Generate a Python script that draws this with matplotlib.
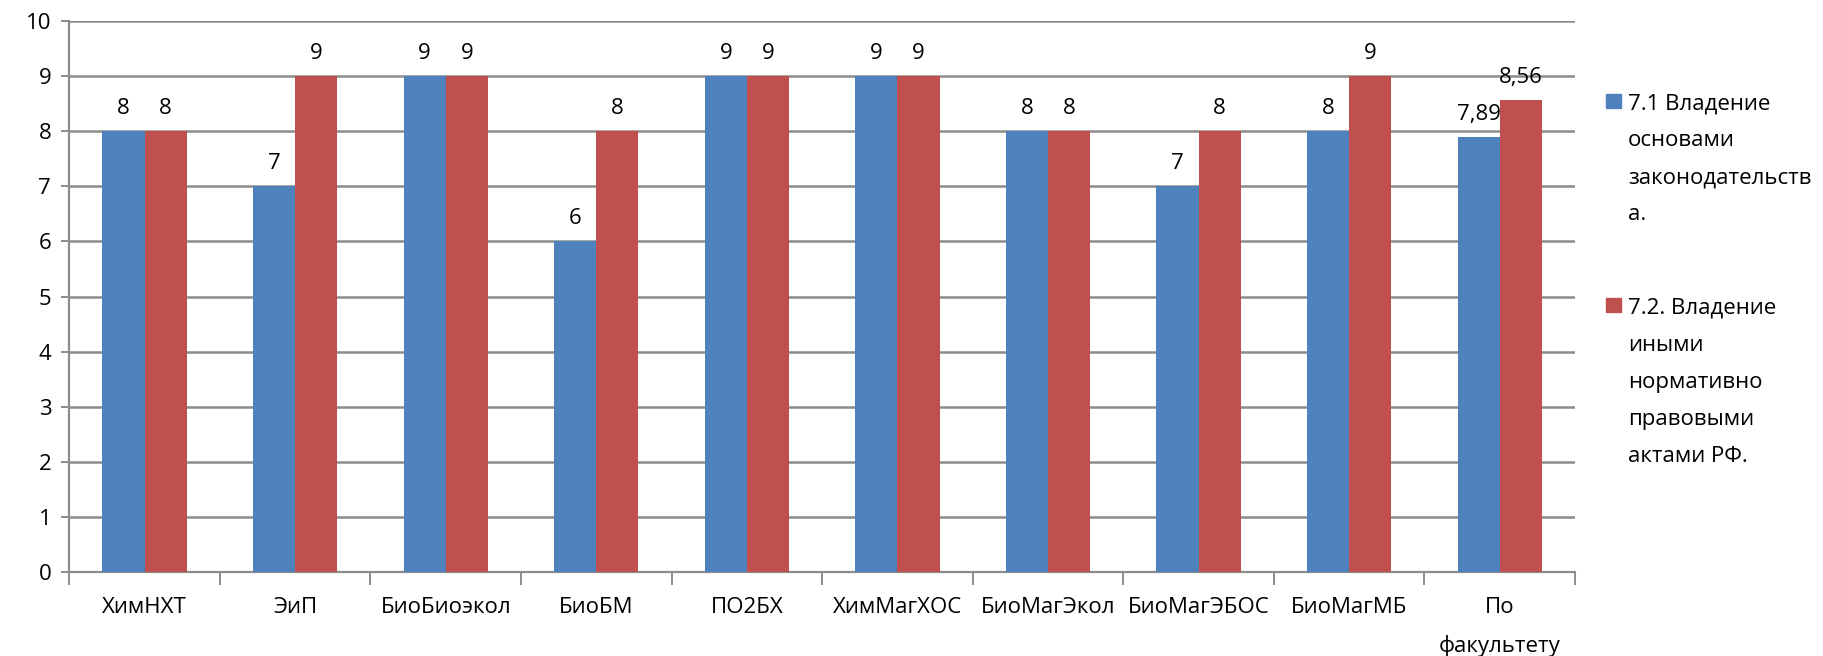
#!/usr/bin/env python3
# Grouped bar chart: 7.1 / 7.2 scores by study group
import numpy as np
import matplotlib.pyplot as plt
from matplotlib.patches import Rectangle

# ── data ────────────────────────────────────────────────
groups = ["ХимНХТ", "ЭиП", "БиоБиоэкол", "БиоБМ", "ПО2БХ",
          "ХимМагХОС", "БиоМагЭкол", "БиоМагЭБОС", "БиоМагМБ", "По\nфакультету"]
s71 = [8, 7, 9, 6, 9, 9, 8, 7, 8, 7.89]
s72 = [8, 9, 9, 8, 9, 9, 8, 8, 9, 8.56]
s71_lbl = ["8", "7", "9", "6", "9", "9", "8", "7", "8", "7,89"]
s72_lbl = ["8", "9", "9", "8", "9", "9", "8", "8", "9", "8,56"]
name71 = "7.1 Владение\nосновами\nзаконодательств\nа."
name72 = "7.2. Владение\nиными\nнормативно\nправовыми\nактами РФ."

BLUE = "#4F81BD"
RED = "#C0504D"
GRID = "#8C8C8C"

plt.rcParams["font.family"] = ["Open Sans", "DejaVu Sans"]
FS = 16

fig = plt.figure(figsize=(18.23, 6.56), dpi=100)
ax = fig.add_axes([0.038, 0.128, 0.826, 0.84])

x = np.arange(len(groups))
w = 0.28
b1 = ax.bar(x - w/2, s71, w, color=BLUE, zorder=3)
b2 = ax.bar(x + w/2, s72, w, color=RED, zorder=3)
ax.bar_label(b1, labels=s71_lbl, padding=9, fontsize=FS)
ax.bar_label(b2, labels=s72_lbl, padding=9, fontsize=FS)

ax.set_xlim(-0.5, len(groups) - 0.5)
ax.set_ylim(0, 10)
ax.set_yticks(range(0, 11))
ax.yaxis.grid(True, color=GRID, linewidth=1.8, zorder=0)
ax.set_axisbelow(True)

ax.set_xticks(x)
ax.set_xticklabels(groups, fontsize=FS, linespacing=2.0, va="top")
ax.set_xticks(np.arange(-0.5, len(groups)), minor=True)
ax.tick_params(axis="x", which="major", length=0, pad=18)
ax.tick_params(axis="x", which="minor", length=9, width=1.4, color=GRID,
               direction="out")
ax.tick_params(axis="y", length=6, width=1.4, color=GRID, labelsize=FS,
               pad=7)

for s in ["top", "right"]:
    ax.spines[s].set_visible(False)
for s in ["left", "bottom"]:
    ax.spines[s].set_color(GRID)
    ax.spines[s].set_linewidth(1.6)

# legend, drawn by hand so the marker sits beside the first line
for col, name, ytop in [(BLUE, name71, 0.858), (RED, name72, 0.546)]:
    fig.patches.append(Rectangle((0.881, ytop - 0.022), 0.0082, 0.021,
                                 transform=fig.transFigure, color=col))
    fig.text(0.893, ytop, name, fontsize=FS, va="top", ha="left",
             linespacing=2.0)

fig.savefig("out.png", dpi=100)
